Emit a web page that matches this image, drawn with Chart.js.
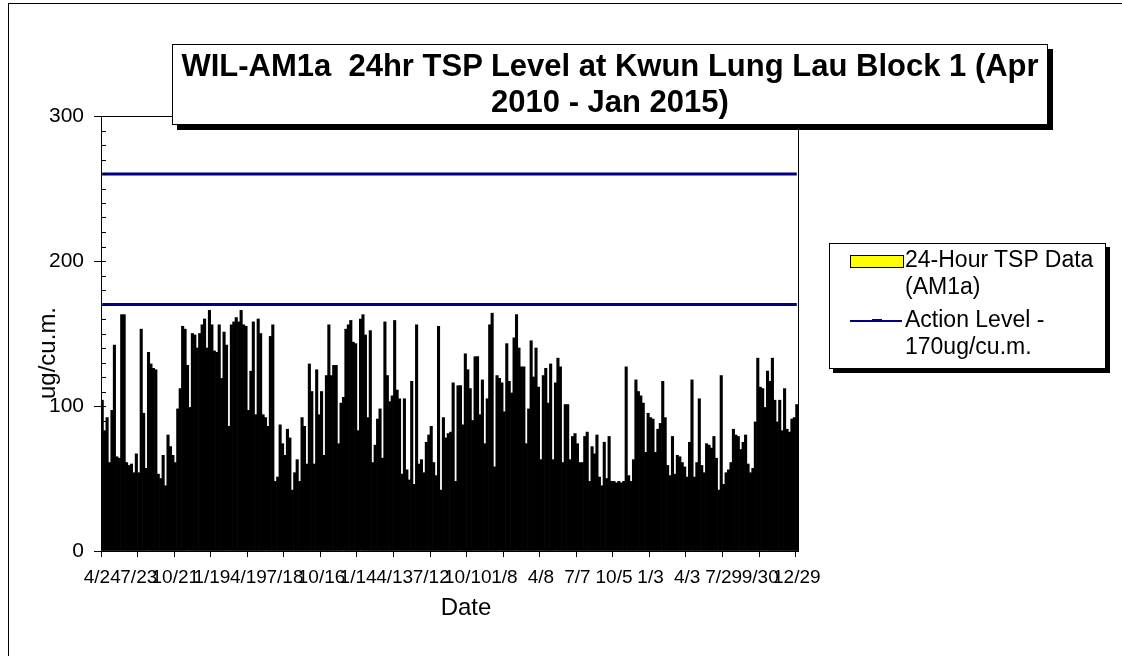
<!DOCTYPE html>
<html>
<head>
<meta charset="utf-8">
<script src="https://cdn.jsdelivr.net/npm/chart.js@4.4.1/dist/chart.umd.min.js"></script>
<style>
body{margin:0;background:#fff;width:1122px;height:656px;overflow:hidden;position:relative;font-family:"Liberation Sans",Arial,sans-serif}
#frame{position:absolute;left:8px;top:3px;width:1300px;height:800px;border:1px solid #000}
#c{position:absolute;left:0;top:0}
#title{position:absolute;left:172px;top:44px;width:874px;height:76px;border:1px solid #000;background:#fff;box-shadow:5px 5px 0 #000;text-align:center;font-weight:bold;font-size:31px;line-height:36px;padding-top:3px;box-sizing:content-box}
#legend{position:absolute;left:829px;top:243px;width:275px;height:124px;border:1px solid #000;background:#fff;box-shadow:4px 4px 0 #000;font-size:23px;line-height:27px}
.sw{position:absolute;left:20px;width:52px}
.lt{position:absolute;left:75px}
#ytitle{position:absolute;left:47px;top:353px;transform:translate(-50%,-50%) rotate(-90deg);font-size:24px;white-space:nowrap}
#xtitle{position:absolute;left:466px;top:607px;transform:translate(-50%,-50%);font-size:24px}
</style>
</head>
<body>
<div id="frame"></div>
<canvas id="c" width="1122" height="656"></canvas>
<div id="title">WIL-AM1a&nbsp; 24hr TSP Level at Kwun Lung Lau Block 1 (Apr<br>2010 - Jan 2015)</div>
<div id="legend">
<div class="sw" style="top:11px;height:11px;background:#ffff00;border:1.5px solid #000"></div>
<div class="lt" style="top:2px">24-Hour TSP Data<br>(AM1a)</div>
<div class="sw" style="top:76px;height:2px;background:#000080"></div>
<div class="sw" style="top:75px;left:42px;width:10px;height:3px;background:#000080"></div>
<div class="lt" style="top:62px">Action Level -<br>170ug/cu.m.</div>
</div>
<div id="ytitle">ug/cu.m.</div>
<div id="xtitle">Date</div>
<script>
// tick labels (every 15th sample)
const tickLabels = ['4/24','7/23','10/21','1/19','4/19','7/18','10/16','1/14','4/13','7/12','10/10','1/8','4/8','7/7','10/5','1/3','4/3','7/29','9/30','12/29']

// 24hr TSP, in six chunks
const tspPart1 = [104,83,92,61,97,142,65,64,163,163,61,59,60,54,67,54,153,95,57,137,129,126,125,53,50,66,45,80,72,66,61,98,112,155,153,128,99,150,149,140,150,156,160,140,166,156,138,137]
const tspPart2 = [156,119,151,142,86,156,158,161,158,166,156,155,97,124,158,94,160,150,94,92,86,148,156,48,51,87,74,66,84,78,42,54,63,48,92,86,60,129,110,60,125,94,110,66,121,156,121,128]
const tspPart3 = [128,74,102,106,153,156,159,144,143,83,160,163,149,92,152,61,73,91,98,64,158,121,103,107,159,111,105,53,105,56,49,117,46,156,60,63,54,75,80,86,61,52,155,42,92,78,81,82]
const tspPart4 = [116,48,114,114,87,136,125,112,90,134,134,94,118,74,105,156,164,58,121,119,116,96,143,117,109,147,163,140,127,127,74,98,145,120,140,113,63,121,126,102,129,63,116,133,127,61,101,101]
const tspPart5 = [63,79,81,74,61,61,79,82,48,72,67,80,51,45,75,50,79,48,48,47,48,47,48,127,52,48,63,118,110,107,102,68,95,92,91,68,84,88,117,92,59,52,79,53,66,65,61,58]
const tspPart6 = [51,75,118,51,61,105,59,54,74,73,71,79,64,42,121,46,54,56,61,84,80,79,70,75,80,60,54,57,89,133,113,112,99,124,117,133,104,89,104,83,112,84,82,91,92,101]

const actionLevel = 170
const limitLevel = 260

const tsp = [...tspPart1,...tspPart2,...tspPart3,...tspPart4,...tspPart5,...tspPart6]
const labels = tsp.map((v,i)=> i%15===0 ? (tickLabels[i/15]||'') : '')

// level lines: a point at each end
function levelLine(val){
let d = tsp.map(()=>null)
d[0]=val
d[d.length-1]=val
return d
}

const boxPlugin = {
id:'box',
afterDatasetsDraw(chart){
const ctx = chart.ctx
const a = chart.chartArea
const y = chart.scales.y
ctx.save()
ctx.strokeStyle='#000'
ctx.lineWidth=1
// small ticks inside the axis
for(let v=0;v<=300;v+=10){
let py = Math.round(y.getPixelForValue(v))+0.5
ctx.beginPath()
ctx.moveTo(a.left,py)
ctx.lineTo(a.left+5,py)
ctx.stroke()
}
ctx.strokeRect(Math.round(a.left)+0.5,Math.round(a.top)+0.5,Math.round(a.right-a.left),Math.round(a.bottom-a.top))
ctx.restore()
}
}

new Chart(document.getElementById('c'),{
type:'bar',
data:{
labels:labels,
datasets:[
{type:'line',label:'Action Level - 170ug/cu.m.',data:levelLine(actionLevel),borderColor:'#000080',borderWidth:3,pointRadius:0,spanGaps:true,order:0},
{type:'line',label:'Limit Level',data:levelLine(limitLevel),borderColor:'#000080',borderWidth:3,pointRadius:0,spanGaps:true,order:0},
{label:'24-Hour TSP Data (AM1a)',data:tsp,backgroundColor:'#000',borderWidth:0,barPercentage:1,categoryPercentage:1,order:1}
]
},
options:{
responsive:false,
animation:false,
layout:{padding:{top:116,right:324,left:0,bottom:0}},
plugins:{legend:{display:false},tooltip:{enabled:false}},
scales:{
x:{
afterFit(s){s.height=105},
border:{color:'#000',width:1},
grid:{drawOnChartArea:false,tickLength:6,tickColor:(c)=> c.index%15===0 ? '#000' : 'rgba(0,0,0,0)'},
ticks:{autoSkip:false,maxRotation:0,minRotation:0,color:'#000',font:{family:"'Liberation Sans',Arial,sans-serif",size:19},padding:9}
},
y:{
min:0,max:300,
afterFit(s){s.width=101},
border:{color:'#000',width:1},
grid:{drawOnChartArea:false,tickLength:7,tickColor:(c)=> c.tick.value%50===0 ? '#000' : 'rgba(0,0,0,0)'},
ticks:{stepSize:10,color:'#000',font:{family:"'Liberation Sans',Arial,sans-serif",size:21},padding:10,
callback:(v)=> v%50===0 ? v : ''}
}
}
},
plugins:[boxPlugin]
})
</script>
</body>
</html>
